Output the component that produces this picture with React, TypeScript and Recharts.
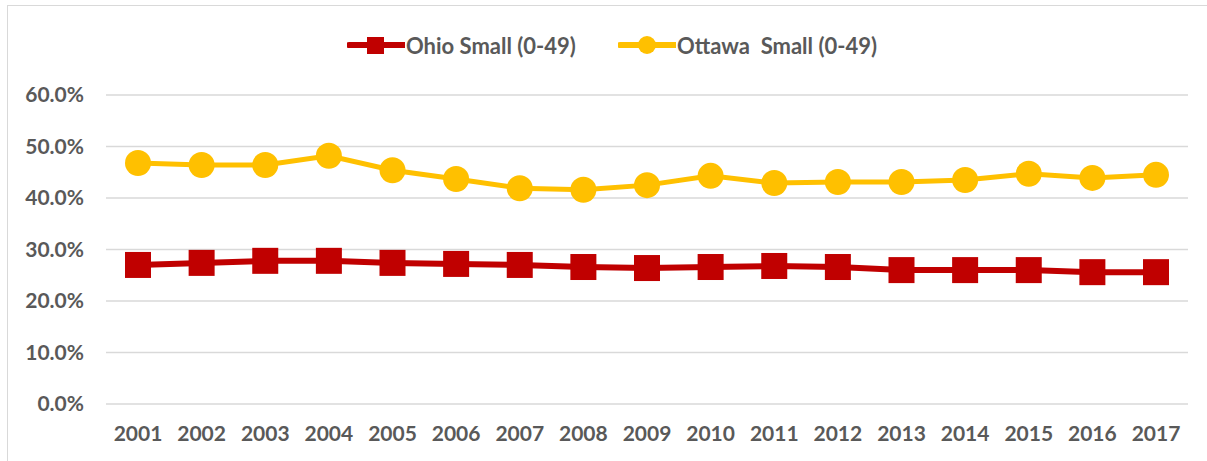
import { CartesianGrid, Line, LineChart, XAxis, YAxis } from "recharts";

const years = [
  "2001", "2002", "2003", "2004", "2005", "2006", "2007", "2008", "2009",
  "2010", "2011", "2012", "2013", "2014", "2015", "2016", "2017",
];
const ohioSmall = [
  27.0, 27.4, 27.8, 27.8, 27.4, 27.2, 27.0, 26.6, 26.4, 26.6, 26.8, 26.6,
  26.0, 26.0, 26.0, 25.6, 25.6,
];
const ottawaSmall = [
  46.8, 46.4, 46.4, 48.2, 45.4, 43.7, 41.9, 41.6, 42.5, 44.3, 42.9, 43.1,
  43.1, 43.5, 44.7, 43.9, 44.5,
];
const yTicks = [0, 10, 20, 30, 40, 50, 60];

const RED = "#C00000";
const GOLD = "#FFC000";
const TEXT = "#595959";
const FONT = "Lato, 'Open Sans', sans-serif";

const data = years.map((year, i) => ({
  year,
  ohio: ohioSmall[i],
  ottawa: ottawaSmall[i],
}));

const tickStyle = {
  fontSize: 21,
  fontWeight: 700,
  fill: TEXT,
  fontFamily: FONT,
};

function SquareDot(props: any) {
  const { cx, cy, index } = props;
  if (cx == null || cy == null) return null;
  return (
    <rect
      key={`sq-${index}`}
      x={cx - 13}
      y={cy - 13}
      width={26}
      height={26}
      fill={RED}
    />
  );
}

function CircleDot(props: any) {
  const { cx, cy, index } = props;
  if (cx == null || cy == null) return null;
  return <circle key={`c-${index}`} cx={cx} cy={cy} r={13} fill={GOLD} />;
}

function LegendItem({
  left,
  color,
  marker,
  label,
}: {
  left: number;
  color: string;
  marker: "square" | "circle";
  label: string;
}) {
  return (
    <div
      style={{
        position: "absolute",
        left,
        top: 32,
        height: 26,
        display: "flex",
        alignItems: "center",
      }}
    >
      <svg width={58} height={24}>
        <line x1={2} y1={12} x2={57} y2={12} stroke={color} strokeWidth={6} strokeLinecap="round" />
        {marker === "square" ? (
          <rect x={20} y={4} width={17} height={17} fill={color} />
        ) : (
          <circle cx={29} cy={12} r={9} fill={color} />
        )}
      </svg>
      <span
        style={{
          fontFamily: FONT,
          fontWeight: 700,
          fontSize: 22,
          color: TEXT,
          whiteSpace: "pre",
          marginLeft: 1,
        }}
      >
        {label}
      </span>
    </div>
  );
}

export default function App() {
  return (
    <div
      style={{
        position: "absolute",
        left: 0,
        top: 0,
        width: 1207,
        height: 461,
        overflow: "hidden",
        background: "#fff",
      }}
    >
      <div
        style={{
          position: "absolute",
          left: 7,
          top: 5,
          width: 1220,
          height: 480,
          border: "1.5px solid #d9d9d9",
        }}
      />
      <LegendItem left={347} color={RED} marker="square" label="Ohio Small (0-49)" />
      <LegendItem left={618} color={GOLD} marker="circle" label="Ottawa  Small (0-49)" />
      <div style={{ position: "absolute", left: 0, top: 0 }}>
        <LineChart
          width={1207}
          height={461}
          data={data}
          margin={{ top: 95, right: 19, bottom: 0, left: 0 }}
        >
          <CartesianGrid stroke="#d9d9d9" strokeWidth={1.5} vertical={false} />
          <XAxis
            dataKey="year"
            axisLine={false}
            tickLine={false}
            tickSize={0}
            tickMargin={22}
            height={57}
            interval={0}
            padding={{ left: 32, right: 32 }}
            tick={tickStyle}
          />
          <YAxis
            domain={[0, 60]}
            ticks={yTicks}
            axisLine={false}
            tickLine={false}
            tickSize={0}
            tickMargin={22}
            width={106}
            tick={tickStyle}
            tickFormatter={(v: number) => `${v.toFixed(1)}%`}
          />
          <Line
            dataKey="ottawa"
            stroke={GOLD}
            strokeWidth={5}
            dot={CircleDot}
            activeDot={false}
            isAnimationActive={false}
          />
          <Line
            dataKey="ohio"
            stroke={RED}
            strokeWidth={6}
            dot={SquareDot}
            activeDot={false}
            isAnimationActive={false}
          />
        </LineChart>
      </div>
    </div>
  );
}
